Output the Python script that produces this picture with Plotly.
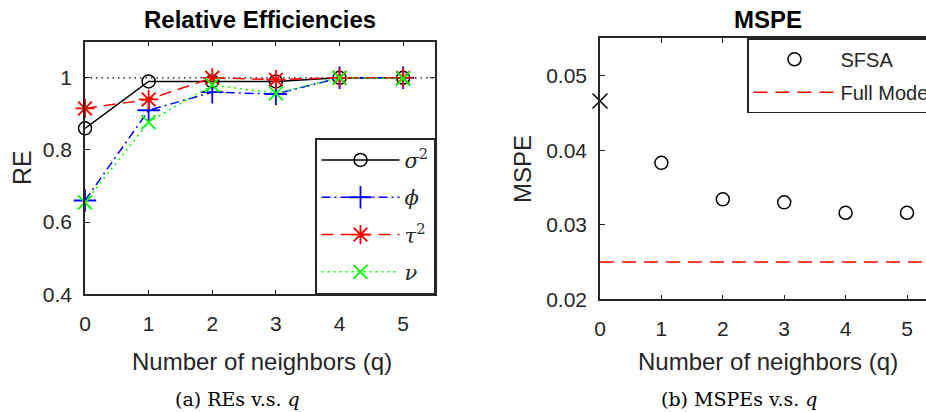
import plotly.graph_objects as go

# ---------------- data ----------------
q_vals = [0, 1, 2, 3, 4, 5]
re_sigma2 = [0.86, 0.99, 0.99, 0.99, 1.00, 1.00]
re_phi = [0.66, 0.91, 0.96, 0.955, 1.00, 1.00]
re_tau2 = [0.915, 0.94, 1.00, 0.995, 1.00, 1.00]
re_nu = [0.655, 0.877, 0.98, 0.957, 1.00, 0.998]
re_reference = 1.0

mspe_q = [1, 2, 3, 4, 5]
mspe_sfsa = [0.0383, 0.0334, 0.0330, 0.0316, 0.0316]
mspe_q0 = [0]
mspe_q0_val = [0.0466]
mspe_full_model = 0.025

x_ticks = [0, 1, 2, 3, 4, 5]
x_ticktext = ["0", "1", "2", "3", "4", "5"]
re_ticks = [0.4, 0.6, 0.8, 1.0]
re_ticktext = ["0.4", "0.6", "0.8", "1"]
mspe_ticks = [0.02, 0.03, 0.04, 0.05]
mspe_ticktext = ["0.02", "0.03", "0.04", "0.05"]

W, H = 926, 412
AX = "#262626"
SANS = "Liberation Sans, Arial, sans-serif"
SERIF = "DejaVu Serif, serif"


def px(x):
    return x / W


def py(y):
    return 1 - y / H


fig = go.Figure()

# ---------------- left panel ----------------
fig.add_trace(go.Scatter(
    x=q_vals, y=re_sigma2, mode="lines+markers", name="<i>σ</i><sup>2</sup>",
    line=dict(color="black", width=1.5),
    marker=dict(symbol="circle-open", size=13, color="black", line=dict(width=1.5)),
    cliponaxis=False, xaxis="x", yaxis="y", legend="legend", legendgroup="a"))
fig.add_trace(go.Scatter(
    x=q_vals, y=re_phi, mode="lines+markers", name="<i>ϕ</i>",
    line=dict(color="#0000ff", width=1.5, dash="9px,4px,2px,4px"),
    marker=dict(symbol="cross-thin-open", size=16, color="#0000ff", line=dict(width=1.8, color="#0000ff")),
    cliponaxis=False, xaxis="x", yaxis="y", legend="legend", legendgroup="b"))
fig.add_trace(go.Scatter(
    x=q_vals, y=re_tau2, mode="lines+markers", name="<i>τ</i><sup>2</sup>",
    line=dict(color="#ff0000", width=1.5, dash="12px,7px"),
    marker=dict(symbol="asterisk-open", size=16, color="#ff0000", line=dict(width=1.8, color="#ff0000")),
    cliponaxis=False, xaxis="x", yaxis="y", legend="legend", legendgroup="c"))
fig.add_trace(go.Scatter(
    x=q_vals, y=re_nu, mode="lines+markers", name="<i>ν</i>",
    line=dict(color="#00ff00", width=1.5, dash="2px,4px"),
    marker=dict(symbol="x-thin-open", size=14, color="#00ff00", line=dict(width=1.8, color="#00ff00")),
    cliponaxis=False, xaxis="x", yaxis="y", legend="legend", legendgroup="d"))

# ---------------- right panel ----------------
fig.add_trace(go.Scatter(
    x=mspe_q, y=mspe_sfsa, mode="markers", name="SFSA",
    marker=dict(symbol="circle-open", size=13, color="black", line=dict(width=1.5)),
    cliponaxis=False, xaxis="x2", yaxis="y2", legend="legend2", legendgroup="e"))
fig.add_trace(go.Scatter(
    x=mspe_q0, y=mspe_q0_val, mode="markers", showlegend=False,
    marker=dict(symbol="x-thin-open", size=15, color="black", line=dict(width=1.5, color="black")),
    cliponaxis=False, xaxis="x2", yaxis="y2"))

shapes = [
    dict(type="line", xref="x domain", yref="y", x0=0, x1=1, y0=re_reference, y1=re_reference,
         line=dict(color="black", width=1.2, dash="1.5px,4px"), layer="below"),
    dict(type="line", xref="x2 domain", yref="y2", x0=0, x1=1, y0=mspe_full_model, y1=mspe_full_model,
         line=dict(color="#ff0000", width=1.5, dash="14px,8px"),
         showlegend=True, name="Full Model", legend="legend2", legendgroup="f"),
]

axis_common = dict(
    showgrid=False, zeroline=False, showline=True, linecolor=AX, linewidth=1.5,
    ticks="inside", ticklen=5, tickcolor=AX, tickwidth=1,
    tickfont=dict(family=SANS, size=21, color=AX),
)

fig.update_layout(
    width=W, height=H,
    margin=dict(l=0, r=0, t=0, b=0, autoexpand=False),
    paper_bgcolor="white", plot_bgcolor="white",
    showlegend=True,
    xaxis=dict(domain=[px(85), px(435)], range=[0, 5.5], tickvals=x_ticks, ticktext=x_ticktext,
               mirror="allticks", anchor="y", ticklabelstandoff=10, **axis_common),
    yaxis=dict(domain=[py(294.3), py(41.7)], range=[0.4, 1.1], tickvals=re_ticks, ticktext=re_ticktext,
               mirror="allticks", anchor="x", ticklabelstandoff=7, **axis_common),
    xaxis2=dict(domain=[px(600), 1], range=[0, 326 / 61.4], tickvals=x_ticks, ticktext=x_ticktext,
                mirror="allticks", anchor="y2", ticklabelstandoff=10, **axis_common),
    yaxis2=dict(domain=[py(299.3), py(38.3)], range=[0.02, 0.055], tickvals=mspe_ticks,
                ticktext=mspe_ticktext, mirror=False, anchor="x2", ticklabelstandoff=7, **axis_common),
    shapes=shapes,
    legend=dict(x=px(435), xanchor="right", y=py(294.3), yanchor="bottom",
                bgcolor="white", bordercolor=AX, borderwidth=1.5,
                font=dict(family="DejaVu Serif, serif", size=21, color=AX),
                tracegroupgap=7, itemwidth=78),
    legend2=dict(x=px(747), xanchor="left", y=py(38.3), yanchor="top",
                 bgcolor="white", bordercolor=AX, borderwidth=1.5,
                 font=dict(family=SANS, size=20, color=AX),
                 tracegroupgap=4, itemwidth=82),
)

ann = [
    dict(text="<b>Relative Efficiencies</b>", x=px(260), y=py(20), font=dict(family=SANS, size=24, color="black")),
    dict(text="<b>MSPE</b>", x=px(768), y=py(20), font=dict(family=SANS, size=24, color="black")),
    dict(text="RE", x=px(22), y=py(168), textangle=-90, font=dict(family=SANS, size=25, color=AX)),
    dict(text="MSPE", x=px(523), y=py(169), textangle=-90, font=dict(family=SANS, size=24, color=AX)),
    dict(text="Number of neighbors (q)", x=px(262), y=py(361), font=dict(family=SANS, size=24, color=AX)),
    dict(text="Number of neighbors (q)", x=px(768), y=py(361), font=dict(family=SANS, size=24, color=AX)),
    dict(text="(a) REs v.s. <i>q</i>", x=px(237), y=py(399), font=dict(family=SERIF, size=19, color="black")),
    dict(text="(b) MSPEs v.s. <i>q</i>", x=px(739), y=py(399), font=dict(family=SERIF, size=19, color="black")),
]
for a in ann:
    a.update(xref="paper", yref="paper", showarrow=False, xanchor="center", yanchor="middle")
fig.update_layout(annotations=ann)

fig.write_html("out.html")
